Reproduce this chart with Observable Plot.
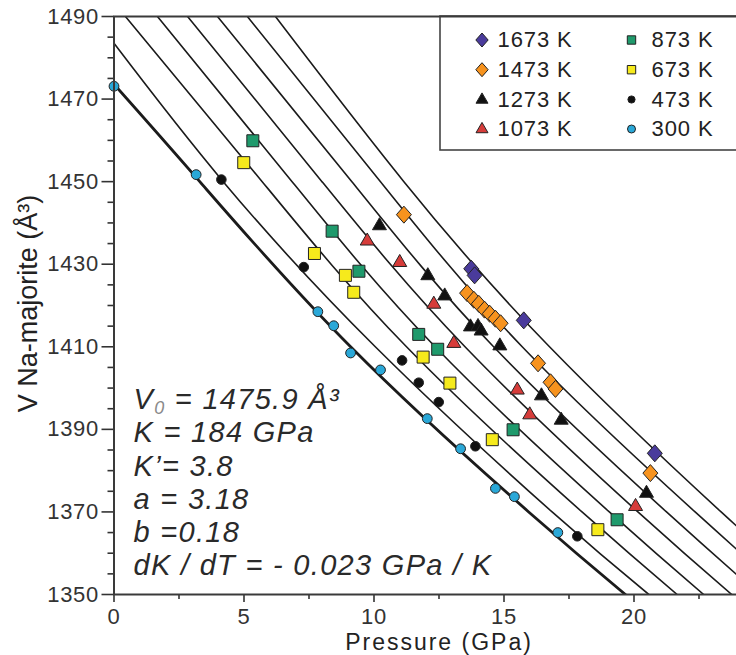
<!DOCTYPE html>
<html><head><meta charset="utf-8">
<script src="https://cdn.jsdelivr.net/npm/d3@7"></script>
<script src="https://cdn.jsdelivr.net/npm/@observablehq/plot@0.6"></script>
<style>
body{margin:0;background:#fff;}
#wrap{width:736px;height:655px;overflow:hidden;background:#fff;}
#wrap svg{max-width:none !important;width:764px !important;height:655px !important;display:block;}
g[aria-label^="x-axis"] text, g[aria-label^="y-axis"] text{letter-spacing:0.7px;}
g[aria-label^="x-axis"] line, g[aria-label^="y-axis"] line, g[aria-label^="x-axis"] path, g[aria-label^="y-axis"] path{stroke-width:1.6px;}
</style></head>
<body><div id="wrap"></div>
<script>
// ---------- data ----------
const legendLabels = ["1673 K","1473 K","1273 K","1073 K","873 K","673 K","473 K","300 K"];
const xTicks = [0, 5, 10, 15, 20];
const xMinor = [2.5, 7.5, 12.5, 17.5, 22.5];
const yTicks = [1350, 1370, 1390, 1410, 1430, 1450, 1470, 1490];
const yMinor = [1355,1360,1365,1375,1380,1385,1395,1400,1405,1415,1420,1425,1435,1440,1445,1455,1460,1465,1475,1480,1485];

// measured points (P in GPa, V in Å^3)
const p300 = [0, 3.16, 7.84, 8.45, 9.1, 10.25, 12.05, 13.33, 14.67, 15.4, 17.07];
const v300 = [1473.1, 1451.7, 1418.5, 1415.1, 1408.5, 1404.4, 1392.6, 1385.3, 1375.7, 1373.7, 1365.0];
const p473 = [4.13, 7.3, 11.08, 11.72, 12.49, 13.9, 17.82];
const v473 = [1450.5, 1429.3, 1406.7, 1401.3, 1396.6, 1385.9, 1364.1];
const p673 = [4.99, 7.71, 8.9, 9.22, 11.89, 12.92, 14.55, 18.61];
const v673 = [1454.6, 1432.6, 1427.3, 1423.2, 1407.5, 1401.2, 1387.5, 1365.7];
const p873 = [5.34, 8.39, 9.42, 11.72, 12.45, 15.35, 19.35];
const v873 = [1459.9, 1438.0, 1428.3, 1413.0, 1409.4, 1389.9, 1368.1];
const p1073 = [9.74, 10.99, 12.3, 13.07, 15.51, 15.99, 20.06];
const v1073 = [1435.7, 1430.5, 1420.4, 1410.9, 1399.6, 1393.6, 1371.4];
const p1273 = [10.21, 12.07, 12.72, 13.71, 14.0, 14.12, 14.84, 16.44, 17.2, 20.48];
const v1273 = [1439.4, 1427.3, 1422.4, 1414.9, 1415.0, 1413.9, 1410.3, 1398.2, 1392.3, 1374.6];
const p1473 = [11.15, 13.58, 13.84, 14.03, 14.25, 14.45, 14.67, 14.87, 16.31, 16.79, 16.98, 20.63];
const v1473 = [1442.0, 1423.0, 1421.4, 1420.4, 1419.0, 1418.0, 1416.8, 1415.7, 1406.0, 1401.4, 1399.8, 1379.4];
const p1673 = [13.74, 13.87, 15.76, 20.8];
const v1673 = [1428.9, 1427.3, 1416.4, 1384.2];

// fitted isotherms
const curveV = [1490, 1450, 1410, 1370, 1350];
const c300P = [0, 3.3, 9.1, 15.95, 19.67];
const c300V = [1473.6, 1450, 1410, 1370, 1350];
const c473P = [0, 4.2, 10.05, 16.85, 20.57];
const c473V = [1483.5, 1450, 1410, 1370, 1350];
const c673P = [0.44, 5.7, 11.25, 18.0, 21.66];
const c873P = [1.67, 6.85, 12.35, 19.05, 22.68];
const c1073P = [2.83, 8.0, 13.5, 20.15, 23.76];
const c1273P = [3.98, 9.15, 14.6, 21.25, 24.82];
const c1473P = [5.13, 10.25, 15.7, 22.35, 25.92];
const c1673P = [6.21, 11.15, 16.75, 23.35, 26.92];

const paramText = "V₀ = 1475.9 Å³\nK = 184 GPa\nK’= 3.8\na = 3.18\nb =0.18\ndK / dT = - 0.023 GPa / K";
const xTitle = "Pressure (GPa)";
const yTitle = "V Na-majorite (Å³)";

// ---------- layout ----------
const W = 764, H = 655, ML = 113.5, MR = 0.5, MT = 16, MB = 61;
const X = d3.scaleLinear([0, 25], [ML, W - MR]);
const Y = d3.scaleLinear([1350, 1490], [H - MB, MT]);
const pxX = d => X.invert(d) - X.invert(0);
const pxY = d => Y.invert(0) - Y.invert(d);

const symDiamond = {draw(c, s){const r=Math.sqrt(s/Math.PI); c.moveTo(0,-r); c.lineTo(0.88*r,0); c.lineTo(0,r); c.lineTo(-0.88*r,0); c.closePath();}};
const symSquare = {draw(c, s){const r=Math.sqrt(s/Math.PI); c.moveTo(-r,-r); c.lineTo(r,-r); c.lineTo(r,r); c.lineTo(-r,r); c.closePath();}};
const symTriangle = {draw(c, s){const r=Math.sqrt(s/Math.PI); c.moveTo(0,-1.1*r); c.lineTo(r,0.62*r); c.lineTo(-r,0.62*r); c.closePath();}};
const symCircle = {draw(c, s){const r=Math.sqrt(s/Math.PI); c.moveTo(r,0); c.arc(0,0,r,0,2*Math.PI); c.closePath();}};

const zip = (P, V) => P.map((p, i) => ({P: p, V: V[i]}));
const series = [
  {label: legendLabels[0], pts: zip(p1673, v1673), fill: "#4a3b9c", sym: symDiamond, r: 8.5, lr: 7},
  {label: legendLabels[1], pts: zip(p1473, v1473), fill: "#f7931e", sym: symDiamond, r: 8.5, lr: 7},
  {label: legendLabels[2], pts: zip(p1273, v1273), fill: "#111111", sym: symTriangle, r: 7, lr: 6},
  {label: legendLabels[3], pts: zip(p1073, v1073), fill: "#d63c3a", sym: symTriangle, r: 7, lr: 6},
  {label: legendLabels[4], pts: zip(p873, v873), fill: "#1f9a6c", sym: symSquare, r: 6, lr: 4.2},
  {label: legendLabels[5], pts: zip(p673, v673), fill: "#f6ea1c", sym: symSquare, r: 6, lr: 4.2},
  {label: legendLabels[6], pts: zip(p473, v473), fill: "#111111", sym: symCircle, r: 4.8, lr: 3.6},
  {label: legendLabels[7], pts: zip(p300, v300), fill: "#2aa8d8", sym: symCircle, r: 4.9, lr: 4}
];
const curves = [
  {d: zip(c300P, c300V), w: 2.8},
  {d: zip(c473P, c473V), w: 1.6},
  {d: zip(c673P, curveV), w: 1.6},
  {d: zip(c873P, curveV), w: 1.6},
  {d: zip(c1073P, curveV), w: 1.6},
  {d: zip(c1273P, curveV), w: 1.6},
  {d: zip(c1473P, curveV), w: 1.6},
  {d: zip(c1673P, curveV), w: 1.6}
];

const legRowY = [39.5, 69.2, 99, 128.5];
const legSymX = [481.5, 631];
const legTextX = [497, 651];
const legendItems = series.map((s, i) => ({...s, col: Math.floor(i / 4), row: i % 4}));

const marks = [];
for (const c of curves) {
  marks.push(Plot.line(c.d, {x: "P", y: "V", curve: "natural", stroke: "#1b1b1b", strokeWidth: c.w, clip: true}));
}
marks.push(Plot.ruleX(xMinor, {x: d => d, y1: () => 1350, y2: () => 1350 - pxY(5), stroke: "#333", strokeWidth: 1.6}));
marks.push(Plot.ruleY(yMinor, {y: d => d, x1: () => 0, x2: () => -pxX(6), stroke: "#333", strokeWidth: 1.6}));
for (const s of series.slice().reverse()) {
  marks.push(Plot.dot(s.pts, {x: "P", y: "V", symbol: s.sym, r: s.r, fill: s.fill, stroke: "#222", strokeWidth: 1}));
}
marks.push(Plot.rect([0], {x1: () => X.invert(440), x2: () => X.invert(800), y1: () => 1490, y2: () => Y.invert(150), fill: "white", stroke: "#444", strokeWidth: 1.6}));
for (const it of legendItems) {
  marks.push(Plot.dot([it], {x: () => X.invert(legSymX[it.col]), y: () => Y.invert(legRowY[it.row]), symbol: it.sym, r: it.lr, fill: it.fill, stroke: "#222", strokeWidth: 1}));
}
marks.push(Plot.text(legendItems, {x: d => X.invert(legTextX[d.col]), y: d => Y.invert(legRowY[d.row]), text: "label", textAnchor: "start", lineAnchor: "middle", fontSize: 22, fill: "#222"}));
marks.push(Plot.text([paramText], {text: d => d, frameAnchor: "top-left", dx: 19.5, dy: 405.7 - 0.71 * 29 - MT, lineAnchor: "top", lineHeight: 1.146, fontSize: 29, fontStyle: "italic", textAnchor: "start", fill: "#2a2a2a"}));
marks.push(Plot.text([xTitle], {text: d => d, frameAnchor: "bottom", textAnchor: "middle", lineAnchor: "middle", dy: 649.5 - 0.32 * 23 - 594, fontSize: 23, fill: "#222"}));
marks.push(Plot.text([yTitle], {text: d => d, frameAnchor: "left", textAnchor: "middle", lineAnchor: "middle", rotate: -90, dx: -85.4, dy: -2, fontSize: 27, fill: "#222"}));
marks.push(Plot.frame({stroke: "#3a3a3a", strokeWidth: 2}));

const chart = Plot.plot({
  width: W, height: H,
  marginLeft: ML, marginRight: MR, marginTop: MT, marginBottom: MB,
  style: {fontFamily: "'Liberation Sans', Arial, sans-serif", fontSize: "22px", color: "#333", background: "white", maxWidth: "none"},
  x: {domain: [0, 25], ticks: xTicks, tickSize: 8, tickPadding: 6, tickFormat: d => String(d), label: null},
  y: {domain: [1350, 1490], ticks: yTicks, tickSize: 12, tickPadding: 3, tickFormat: d => String(d), label: null},
  marks
});

// text refinements: letter spacing and the grey subscript of V0
const SVGNS = "http://www.w3.org/2000/svg";
for (const t of chart.querySelectorAll("text")) {
  const s = t.textContent;
  if (s.includes("dK / dT")) {
    t.style.letterSpacing = "1.3px";
    for (const sp of t.querySelectorAll("tspan")) {
      if (sp.textContent.startsWith("V₀")) {
        const rest = sp.textContent.slice(2);
        sp.textContent = "V";
        const sub = document.createElementNS(SVGNS, "tspan");
        sub.setAttribute("font-size", "0.62em");
        sub.setAttribute("baseline-shift", "-0.28em");
        sub.setAttribute("fill", "#8a8a8a");
        sub.textContent = "0";
        const tail = document.createElementNS(SVGNS, "tspan");
        tail.textContent = rest;
        sp.appendChild(sub); sp.appendChild(tail);
      }
    }
  } else if (/^\d+ K$/.test(s)) {
    t.style.letterSpacing = "0.9px";
  } else if (s === xTitle) {
    t.style.letterSpacing = "2px";
  }
}
document.getElementById("wrap").appendChild(chart);
</script>
</body></html>
